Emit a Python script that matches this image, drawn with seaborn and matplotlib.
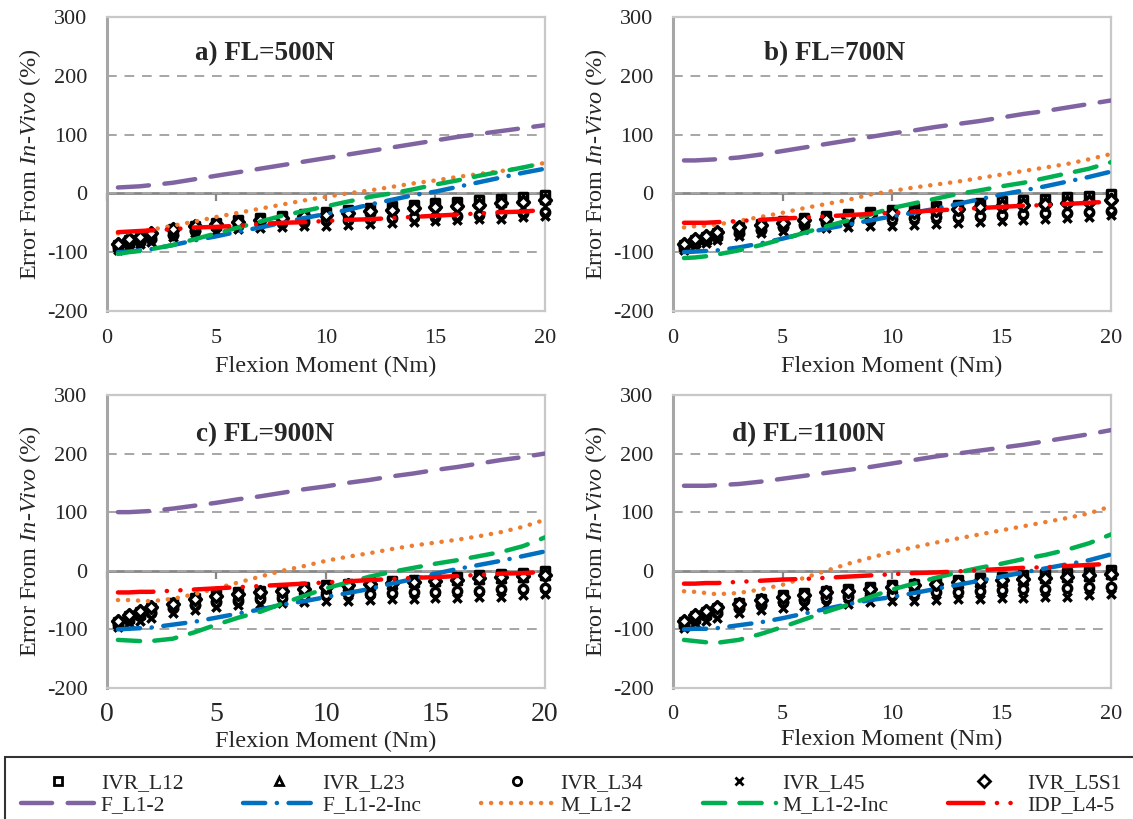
import matplotlib
matplotlib.use("Agg")
import matplotlib.pyplot as plt
from matplotlib.lines import Line2D
import numpy as np
import pandas as pd
import seaborn as sns

# flexion moment steps (Nm)
moment = [0.5, 1, 1.5, 2, 3, 4, 5, 6, 7, 8, 9, 10, 11, 12, 13, 14, 15, 16, 17, 18, 19, 20]

panel_titles = ["a) FL=500N", "b) FL=700N", "c) FL=900N", "d) FL=1100N"]

# in-vitro ranges, one row per panel (a, b, c, d)
ivr_l12 = [
    [-88, -80, -76, -70, -60, -55, -50, -46, -42, -38, -35, -31, -28, -25, -22, -19, -16, -14, -12, -9, -6, -3],
    [-88, -80, -74, -68, -58, -52, -47, -42, -38, -35, -32, -28, -25, -22, -19, -16, -13, -11, -9, -6, -4, -1],
    [-87, -78, -70, -63, -55, -47, -40, -37, -34, -31, -28, -25, -22, -20, -17, -15, -12, -10, -8, -5, -3, 0],
    [-88, -78, -70, -64, -55, -48, -42, -38, -34, -31, -28, -25, -22, -19, -16, -13, -10, -8, -6, -3, -1, 2],
]
ivr_l23 = [
    [-90, -83, -78, -73, -64, -58, -53, -49, -45, -41, -38, -34, -31, -28, -25, -22, -20, -18, -16, -14, -12, -10],
    [-90, -82, -77, -71, -62, -56, -51, -46, -42, -39, -36, -32, -29, -26, -23, -20, -18, -16, -14, -12, -10, -8],
    [-89, -80, -73, -66, -58, -51, -45, -41, -38, -35, -32, -29, -26, -24, -22, -20, -18, -16, -14, -12, -10, -8],
    [-90, -80, -73, -67, -58, -52, -46, -42, -38, -35, -32, -29, -26, -23, -21, -19, -17, -15, -13, -11, -9, -6],
]
ivr_l34 = [
    [-92, -86, -82, -77, -70, -64, -58, -55, -52, -50, -48, -46, -45, -44, -42, -41, -40, -38, -36, -35, -34, -32],
    [-92, -85, -80, -75, -68, -62, -57, -53, -50, -48, -46, -44, -42, -41, -40, -38, -37, -35, -34, -33, -32, -30],
    [-91, -84, -78, -72, -64, -58, -54, -51, -48, -46, -44, -42, -40, -39, -38, -37, -36, -35, -34, -32, -31, -30],
    [-92, -84, -78, -72, -64, -58, -53, -50, -47, -45, -43, -41, -39, -37, -36, -34, -33, -32, -31, -29, -28, -27],
]
ivr_l45 = [
    [-96, -90, -86, -82, -74, -68, -64, -61, -59, -57, -56, -55, -53, -52, -50, -49, -47, -46, -44, -43, -41, -38],
    [-96, -90, -84, -80, -73, -68, -64, -61, -59, -57, -56, -55, -53, -52, -50, -49, -47, -45, -44, -42, -40, -37],
    [-96, -90, -85, -80, -72, -67, -62, -59, -57, -55, -53, -52, -51, -50, -49, -48, -47, -46, -45, -44, -42, -40],
    [-97, -90, -85, -80, -72, -67, -63, -60, -58, -56, -54, -52, -51, -50, -49, -48, -47, -46, -45, -44, -42, -40],
]
ivr_l5s1 = [
    [-86, -78, -74, -68, -60, -56, -52, -48, -45, -42, -39, -36, -33, -30, -28, -25, -23, -21, -19, -17, -15, -12],
    [-86, -78, -72, -66, -58, -54, -50, -46, -43, -40, -37, -34, -31, -28, -26, -24, -22, -20, -18, -16, -14, -12],
    [-85, -76, -69, -62, -56, -49, -43, -40, -37, -34, -31, -28, -25, -23, -21, -19, -17, -15, -13, -11, -9, -7],
    [-86, -76, -69, -62, -56, -50, -44, -41, -37, -34, -31, -28, -25, -22, -20, -18, -16, -14, -12, -10, -8, -5],
]

# model predictions, one row per panel
f_l12 = [
    [10, 11, 12, 14, 18, 24, 30, 36, 42, 48, 54, 60, 66, 72, 78, 84, 90, 96, 101, 106, 111, 116],
    [56, 56, 57, 58, 61, 66, 72, 78, 84, 90, 96, 102, 107, 113, 118, 123, 129, 135, 140, 146, 152, 158],
    [100, 100, 101, 102, 106, 111, 116, 122, 127, 133, 139, 144, 150, 155, 161, 166, 172, 177, 183, 189, 194, 200],
    [145, 145, 145, 146, 148, 152, 157, 162, 167, 172, 177, 183, 189, 195, 200, 205, 210, 215, 221, 227, 233, 240],
]
f_l12_inc = [
    [-100, -99, -97, -95, -88, -80, -73, -65, -58, -50, -42, -35, -28, -19, -11, -3, 3, 11, 19, 27, 35, 42],
    [-100, -99, -98, -97, -92, -85, -77, -68, -60, -53, -46, -39, -33, -26, -18, -10, -2, 5, 12, 20, 28, 37],
    [-100, -99, -98, -97, -92, -87, -80, -73, -66, -58, -52, -45, -38, -31, -22, -14, -5, 3, 10, 17, 25, 33],
    [-100, -99, -99, -98, -93, -88, -81, -73, -65, -57, -50, -45, -38, -31, -24, -17, -10, -3, 4, 11, 18, 28],
]
m_l12 = [
    [-68, -66, -64, -62, -55, -48, -40, -33, -26, -19, -12, -6, 0, 5, 11, 17, 22, 28, 33, 38, 44, 52],
    [-58, -56, -55, -53, -47, -40, -33, -25, -18, -11, -2, 4, 10, 15, 20, 26, 32, 38, 44, 50, 58, 67],
    [-50, -50, -51, -52, -48, -40, -30, -20, -10, 0, 8, 17, 24, 30, 37, 43, 48, 53, 59, 66, 75, 87],
    [-35, -36, -38, -40, -38, -32, -24, -12, 0, 12, 22, 32, 40, 48, 55, 62, 69, 76, 83, 90, 98, 110],
]
m_l12_inc = [
    [-103, -100, -98, -95, -88, -78, -68, -58, -48, -38, -30, -22, -14, -6, 0, 7, 15, 22, 30, 37, 44, 52],
    [-110, -109, -107, -104, -97, -88, -78, -67, -56, -46, -36, -25, -17, -9, -1, 5, 12, 18, 26, 34, 42, 53],
    [-118, -119, -120, -120, -116, -105, -92, -80, -70, -56, -43, -30, -20, -10, -2, 5, 12, 18, 25, 32, 42, 57],
    [-118, -120, -122, -123, -118, -108, -96, -83, -70, -58, -45, -32, -22, -12, -3, 5, 12, 20, 27, 36, 47, 62],
]
idp_l45 = [
    [-66, -65, -64, -63, -61, -58, -57, -55, -52, -50, -49, -47, -45, -44, -42, -40, -38, -36, -34, -32, -31, -28],
    [-50, -50, -50, -49, -47, -45, -43, -41, -39, -37, -35, -33, -31, -29, -27, -25, -23, -21, -20, -18, -16, -14],
    [-37, -37, -36, -36, -34, -32, -30, -28, -26, -24, -22, -20, -18, -16, -14, -12, -11, -9, -7, -5, -4, -2],
    [-22, -22, -21, -21, -19, -17, -15, -14, -12, -10, -8, -6, -4, -3, -1, 1, 3, 5, 6, 8, 10, 12],
]

marker_series = [
    ("IVR_L12", ivr_l12, "s"),
    ("IVR_L23", ivr_l23, "^"),
    ("IVR_L34", ivr_l34, "o"),
    ("IVR_L45", ivr_l45, "x"),
    ("IVR_L5S1", ivr_l5s1, "D"),
]
line_series = [
    ("F_L1-2", f_l12, "#8064A2", (0, (7, 3.5))),
    ("F_L1-2-Inc", f_l12_inc, "#0070C0", (0, (5, 2.6, 0.05, 2.6))),
    ("M_L1-2", m_l12, "#ED7D31", (0, (0.05, 2.2))),
    ("M_L1-2-Inc", m_l12_inc, "#00B050", (0, (5, 3.2))),
    ("IDP_L4-5", idp_l45, "#FF0000", (0, (8, 3, 0.05, 3, 0.05, 3))),
]

sns.set_theme(style="white")
plt.rcParams["font.family"] = ["Liberation Serif", "DejaVu Serif"]
plt.rcParams["mathtext.fontset"] = "custom"
plt.rcParams["mathtext.it"] = "Liberation Serif:italic"
plt.rcParams["mathtext.rm"] = "Liberation Serif"
plt.rcParams["axes.unicode_minus"] = False

fig = plt.figure(figsize=(11.33, 8.19), dpi=100)
positions = [
    [0.0944, 0.6203, 0.3866, 0.359],
    [0.594, 0.6203, 0.3866, 0.359],
    [0.0944, 0.160, 0.3866, 0.3578],
    [0.594, 0.160, 0.3866, 0.3578],
]
title_x = [7.2, 7.4, 7.2, 6.2]
title_y = [237, 237, 232, 232]
xtick_pad = [13, 13, 10, 12]
xlabel_pad = [6, 6, 3, 4]

for i, pos in enumerate(positions):
    ax = fig.add_axes(pos)
    ax.set_xlim(0, 20)
    ax.set_ylim(-200, 300)
    ax.set_yticks(range(-200, 301, 100))
    ax.set_xticks(range(0, 21, 5))
    ax.set_axisbelow(True)
    ax.yaxis.grid(True, color="#A6A6A6", linestyle=(0, (5, 4)), linewidth=1.4)
    for side in ["top", "right", "bottom"]:
        ax.spines[side].set_color("#C8C8C8")
        ax.spines[side].set_linewidth(1.6)
    ax.spines["left"].set_color("#A6A6A6")
    ax.spines["left"].set_linewidth(2.2)
    ax.tick_params(axis="y", length=0, pad=14, labelsize=16)
    ax.tick_params(axis="x", length=0, pad=xtick_pad[i], labelsize=20 if i == 2 else 16)

    # zero axis with tick marks
    zero_ax = ax.secondary_xaxis(0.4)
    zero_ax.set_xticks(range(0, 21, 5))
    zero_ax.set_xticklabels([])
    zero_ax.tick_params(direction="out", length=6, width=1.6, color="#868686")
    zero_ax.spines["bottom"].set_color("#868686")
    zero_ax.spines["bottom"].set_linewidth(2)

    for name, vals, mk in marker_series:
        sns.scatterplot(x=moment, y=vals[i], ax=ax, marker=mk, s=36,
                        facecolor="white" if mk != "x" else "black",
                        edgecolor="black", linewidth=2.5, color="black",
                        zorder=3, clip_on=False, legend=False)
    for name, vals, col, ls in line_series:
        sns.lineplot(x=moment, y=vals[i], ax=ax, color=col, linewidth=3.2,
                     linestyle=ls, dash_capstyle="round", sort=False,
                     zorder=4, legend=False)

    ax.text(title_x[i], title_y[i], panel_titles[i], fontsize=19.5,
            fontweight="bold", ha="center", va="center")
    ax.set_xlabel("Flexion Moment (Nm)", fontsize=17.5, labelpad=xlabel_pad[i])
    ax.set_ylabel(r"Error From $\mathit{In}$-$\mathit{Vivo}$ (%)", fontsize=17.5, labelpad=3)

# legend, two rows: markers then lines
handles = []
for (mname, _, mk), (lname, _, col, ls) in zip(marker_series, line_series):
    handles.append(Line2D([], [], linestyle="none", marker=mk, markersize=6,
                          markerfacecolor="white" if mk != "x" else "black",
                          markeredgecolor="black", markeredgewidth=2, label=mname))
    handles.append(Line2D([], [], color=col, linewidth=3.2, linestyle=ls,
                          dash_capstyle="round", label=lname))

leg_top = 1 - 757 / 819
leg = fig.legend(handles=handles, ncol=5, loc="upper left",
                 bbox_to_anchor=(0.0044, leg_top - 0.1, 1.0, 0.1), mode="expand",
                 fontsize=15.5, frameon=True, fancybox=False, handlelength=3.4,
                 handletextpad=0.3, labelspacing=0.1, borderaxespad=0,
                 borderpad=0.75)
leg.get_frame().set_edgecolor("black")
leg.get_frame().set_linewidth(1.5)

fig.savefig("out.png", dpi=100)
